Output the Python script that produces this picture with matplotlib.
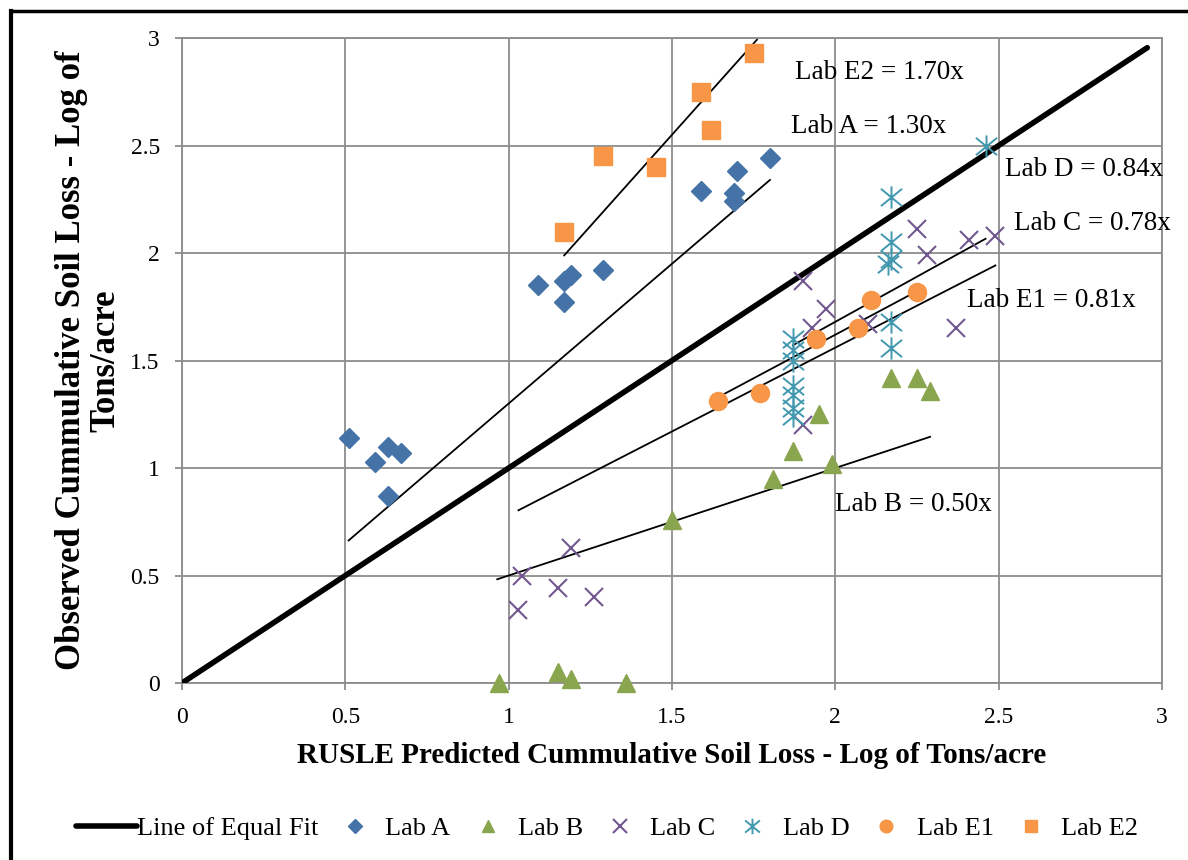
import numpy as np
import matplotlib.pyplot as plt
from matplotlib.lines import Line2D
from matplotlib.path import Path

plt.rcParams['font.family'] = ['Liberation Serif', 'DejaVu Serif']

# observed vs predicted (log of tons/acre)
lab_a_x = [0.51, 0.59, 0.63, 0.67, 0.63, 1.09, 1.17, 1.17, 1.19, 1.29, 1.59, 1.69, 1.69, 1.70, 1.80]
lab_a_y = [1.14, 1.03, 1.10, 1.07, 0.87, 1.85, 1.77, 1.87, 1.90, 1.92, 2.29, 2.28, 2.24, 2.38, 2.44]

lab_b_x = [0.97, 1.15, 1.19, 1.36, 1.50, 1.81, 1.87, 1.95, 1.99, 2.17, 2.25, 2.29]
lab_b_y = [0.00, 0.05, 0.02, 0.00, 0.76, 0.95, 1.08, 1.25, 1.02, 1.42, 1.42, 1.36]

lab_c_x = [1.03, 1.04, 1.15, 1.19, 1.26, 1.90, 1.97, 1.93, 2.10, 2.25, 2.28, 2.41, 2.49, 2.37, 1.90]
lab_c_y = [0.34, 0.50, 0.44, 0.63, 0.40, 1.87, 1.74, 1.65, 1.67, 2.11, 1.99, 2.06, 2.08, 1.65, 1.20]

lab_d_x = [1.87, 1.87, 1.87, 1.87, 1.87, 1.87, 1.87, 2.17, 2.17, 2.17, 2.16, 2.17, 2.17, 2.46]
lab_d_y = [1.60, 1.55, 1.50, 1.38, 1.34, 1.28, 1.24, 2.26, 2.05, 1.97, 1.95, 1.68, 1.56, 2.50]

lab_e1_x = [1.64, 1.77, 1.94, 2.07, 2.11, 2.25]
lab_e1_y = [1.31, 1.35, 1.60, 1.65, 1.78, 1.82]

lab_e2_x = [1.17, 1.29, 1.45, 1.59, 1.62, 1.75]
lab_e2_y = [2.10, 2.45, 2.40, 2.75, 2.57, 2.93]

# trendlines through the origin: slope and x-extent
trend_names = ['Lab E2', 'Lab A', 'Lab D', 'Lab C', 'Lab E1', 'Lab B']
trend_slopes = [1.70, 1.30, 0.84, 0.78, 0.81, 0.50]
trend_x0 = [1.17, 0.51, 1.87, 1.03, 1.645, 0.965]
trend_x1 = [1.76, 1.80, 2.46, 2.49, 2.245, 2.29]
label_x = [1.876, 1.864, 2.52, 2.547, 2.403, 2.00]
label_y = [2.84, 2.59, 2.39, 2.135, 1.78, 0.83]

equal_fit = [0.0, 2.955]

# excel-style asterisk: vertical bar with a wide X over it
star = Path([(0, -1), (0, 1), (-0.95, -0.78), (0.95, 0.78), (-0.95, 0.78), (0.95, -0.78)],
            [Path.MOVETO, Path.LINETO, Path.MOVETO, Path.LINETO, Path.MOVETO, Path.LINETO])

fig = plt.figure(figsize=(11.88, 8.60), dpi=100)
ax = fig.add_axes([0.1532, 0.2058, 0.8249, 0.75])

grid_c = '#8c8c8c'
ax.plot(equal_fit, equal_fit, color='black', lw=4, solid_capstyle='round',
        label='Line of Equal Fit', zorder=3)

for k, x0, x1 in zip(trend_slopes, trend_x0, trend_x1):
    xs = np.array([x0, x1])
    ax.plot(xs, k * xs, color='black', lw=1.3, zorder=2)

marker_kw = dict(ls='none', zorder=4, clip_on=False)
ax.plot(lab_a_x, lab_a_y, marker='D', ms=10, color='#4572a7', label='Lab A', **marker_kw)
ax.plot(lab_b_x, lab_b_y, marker='^', ms=13, color='#89a54e', label='Lab B', **marker_kw)
ax.plot(lab_c_x, lab_c_y, marker='x', ms=13.5, mew=1.5, color='#71588f', label='Lab C', **marker_kw)
ax.plot(lab_d_x, lab_d_y, marker=star, ms=16, mew=1.4, color='#4198af', label='Lab D', **marker_kw)
ax.plot(lab_e1_x, lab_e1_y, marker='o', ms=13, color='#f79646', label='Lab E1', **marker_kw)
ax.plot(lab_e2_x, lab_e2_y, marker='s', ms=13, color='#f79646', label='Lab E2', **marker_kw)

for name, k, lx, ly in zip(trend_names, trend_slopes, label_x, label_y):
    ax.text(lx, ly, f'{name} = {k:.2f}x', fontsize=19.5, ha='left', va='center', zorder=5)

ax.set_xlim(0, 3)
ax.set_ylim(0, 3)
ticks = [0, 0.5, 1, 1.5, 2, 2.5, 3]
tick_lbls = ['0', '0.5', '1', '1.5', '2', '2.5', '3']
ax.set_xticks(ticks, tick_lbls)
ax.set_yticks(ticks, tick_lbls)
ax.tick_params(labelsize=17, length=5, width=1.3, color=grid_c)
ax.tick_params(axis='x', pad=12)
ax.tick_params(axis='y', pad=11)
ax.grid(True, color=grid_c, lw=1.3)
ax.set_axisbelow(True)
for s in ax.spines.values():
    s.set_color(grid_c)
    s.set_linewidth(1.3)

ax.set_xlabel('RUSLE Predicted Cummulative Soil Loss - Log of Tons/acre',
              fontsize=21, fontweight='bold', labelpad=10)
ax.set_ylabel('Observed Cummulative Soil Loss - Log of\nTons/acre',
              fontsize=25, fontweight='bold', labelpad=6, linespacing=1.05)

fig.legend(loc='center', bbox_to_anchor=(0.511, 0.037), ncol=7, frameon=False,
           fontsize=19, handlelength=2.3, handletextpad=0.0, columnspacing=0.25,
           markerscale=0.7)

# outer frame (top and left edges)
fig.add_artist(Line2D([0.0095, 1.0], [0.9872, 0.9872], color='black', lw=2.5))
fig.add_artist(Line2D([0.0095, 0.0095], [0.0, 0.9872], color='black', lw=3))

fig.savefig('out.png', dpi=100)
